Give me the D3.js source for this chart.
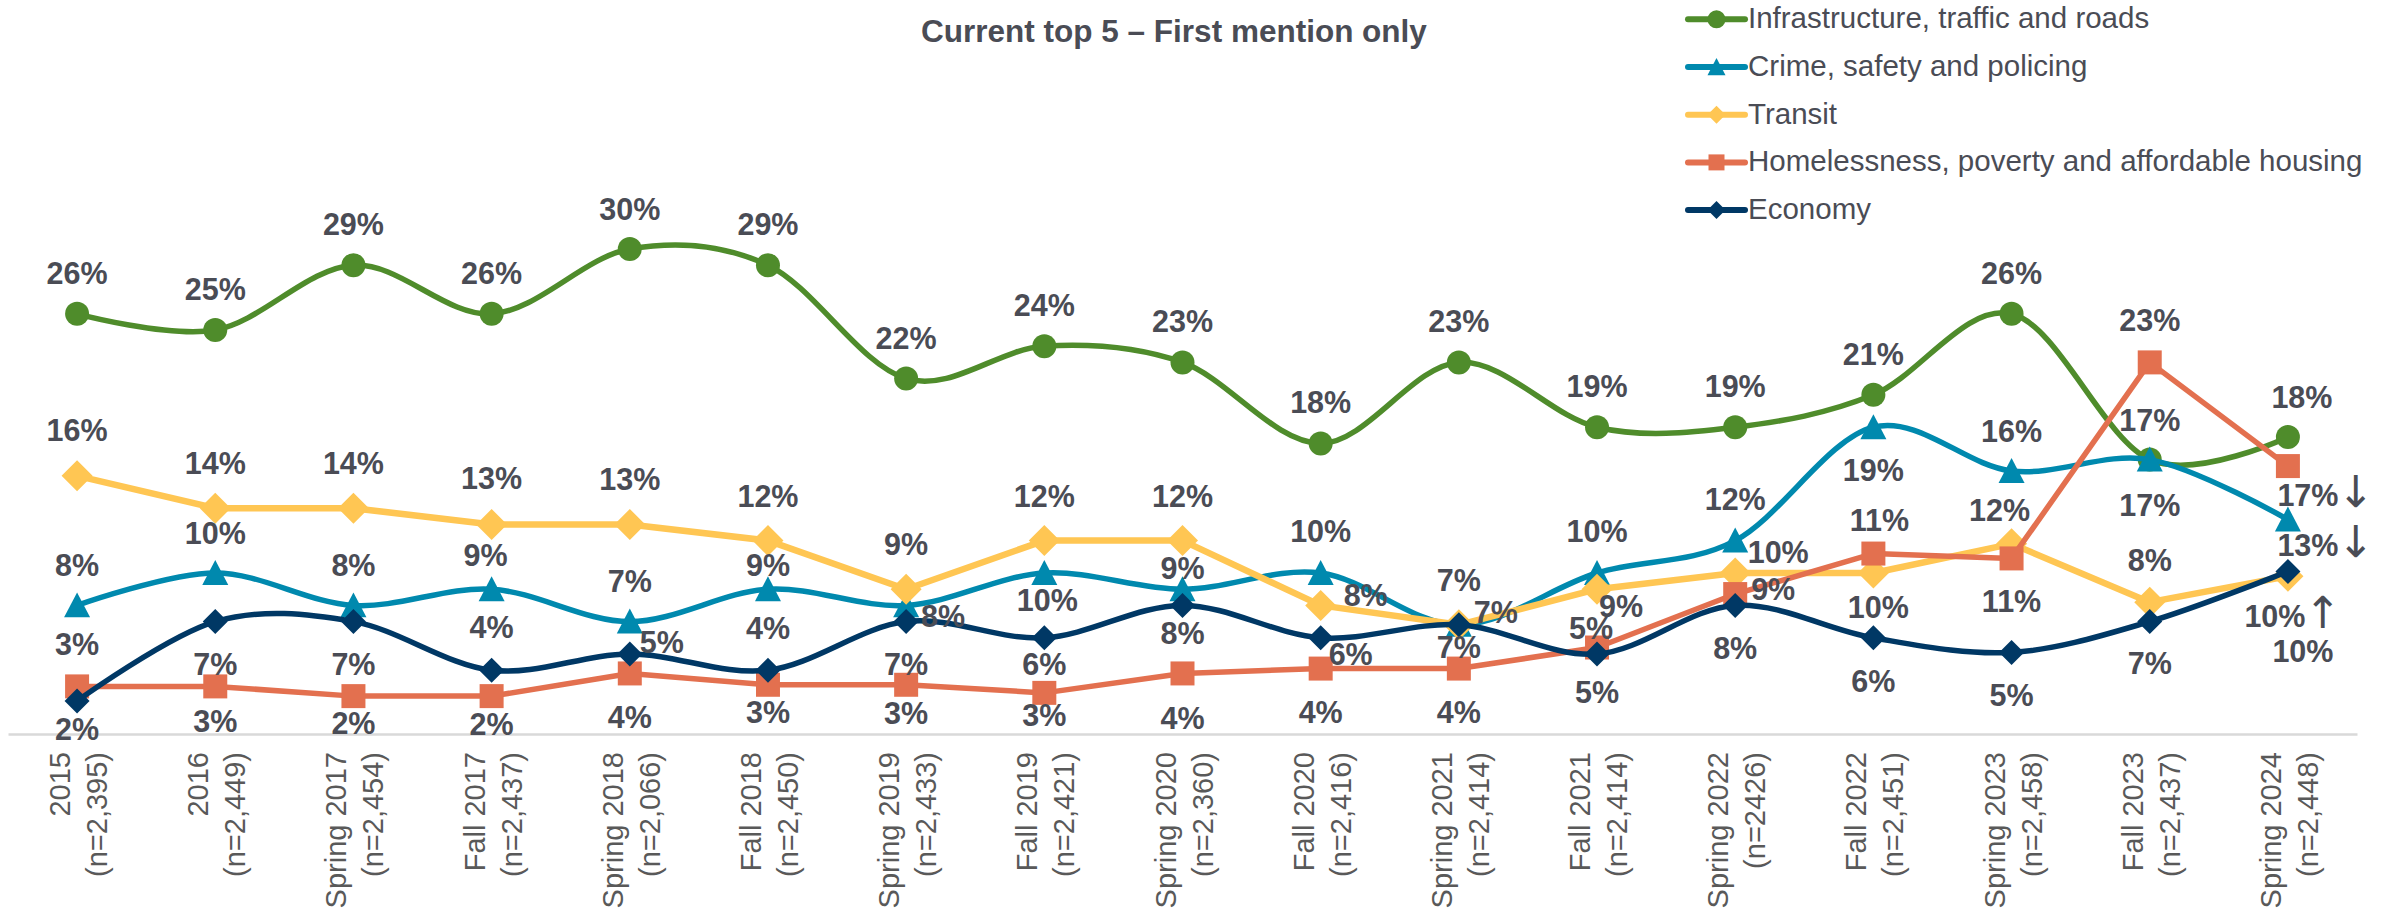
<!DOCTYPE html>
<html>
<head>
<meta charset="utf-8">
<script src="https://cdn.jsdelivr.net/npm/d3@7"></script>
<style>
body { margin: 0; background: #fff; }
text { font-family: "Liberation Sans", Arial, sans-serif; }
</style>
</head>
<body>
<svg id="chart" width="2394" height="910"></svg>
<script>
var categories = ['2015', '2016', 'Spring 2017', 'Fall 2017', 'Spring 2018', 'Fall 2018', 'Spring 2019', 'Fall 2019',
	'Spring 2020', 'Fall 2020', 'Spring 2021', 'Fall 2021', 'Spring 2022', 'Fall 2022', 'Spring 2023', 'Fall 2023', 'Spring 2024'];
var sampleSizes = ['(n=2,395)', '(n=2,449)', '(n=2,454)', '(n=2,437)', '(n=2,066)', '(n=2,450)', '(n=2,433)', '(n=2,421)',
	'(n=2,360)', '(n=2,416)', '(n=2,414)', '(n=2,414)', '(n=2426)', '(n=2,451)', '(n=2,458)', '(n=2,437)', '(n=2,448)'];

var seriesNames = ['Infrastructure, traffic and roads', 'Crime, safety and policing', 'Transit',
	'Homelessness, poverty and affordable housing', 'Economy'];

var infrastructure = [26, 25, 29, 26, 30, 29, 22, 24, 23, 18, 23, 19, 19, 21, 26, 17, 18.4];
var crime          = [8, 10, 8, 9, 7, 9, 8, 10, 9, 10, 6.8, 10, 12, 19, 16.3, 17, 13.3];
var transit        = [16, 14, 14, 13, 13, 12, 9, 12, 12, 8, 6.8, 9, 10, 10, 11.8, 8.2, 9.8];
var homelessness   = [3, 3, 2.4, 2.4, 3.8, 3.1, 3.1, 2.6, 3.8, 4.1, 4.1, 5.4, 8.7, 11.2, 10.9, 23, 16.6];
var economy        = [2.1, 7, 7, 4, 5, 4, 7, 6, 8, 6, 6.8, 5, 8, 6, 5.1, 7, 10.1];

// change vs previous wave, shown on the last point only
var trendArrows = ['', '\u2193', '\u2191', '\u2193', ''];

// label centre offsets [dx, dy] from each marker
var infraLabelPos = [[0,-41],[0,-41],[0,-41],[0,-41],[0,-40],[0,-41],[0,-41],[0,-41],[0,-41],[0,-41],[0,-41],[0,-41],[0,-41],[0,-41],[0,-41],[0,-40],[14,-40]];
var crimeLabelPos = [[0,-40],[0,-40],[0,-40],[-6,-34],[0,-41],[0,-24],[37,11],[3,27],[0,-21],[0,-42],[0,-45],[0,-42],[0,-42],[0,43],[0,-40],[0,45],[20,25]];
var transitLabelPos = [[0,-46],[0,-45],[0,-45],[0,-46],[0,-45],[0,-45],[0,-45],[0,-45],[0,-45],[45,-10],[37,-13],[24,17],[43,-21],[5,34],[-12,-34],[0,-42],[-13,40]];
var homeLabelPos = [[0,-42],[0,35],[0,27],[0,28],[0,44],[0,27],[0,28],[0,22],[0,45],[0,43],[0,43],[-6,-20],[38,-5],[6,-34],[0,43],[0,-42],[20,29]];
var economyLabelPos = [[0,28],[0,42],[0,42],[0,-43],[32,-12],[0,-42],[0,42],[0,26],[0,28],[30,16],[0,22],[0,38],[0,43],[0,43],[0,43],[0,41],[15,80]];

var series = [
	{name: seriesNames[0], values: infrastructure, color: '#4f8c2b', shape: 'circle', size: 12, smooth: true, width: 5.5, pos: infraLabelPos},
	{name: seriesNames[1], values: crime, color: '#0089ae', shape: 'triangle', size: 13, smooth: true, width: 5.5, pos: crimeLabelPos},
	{name: seriesNames[2], values: transit, color: '#ffc653', shape: 'diamond', size: 15.5, smooth: false, width: 6.5, pos: transitLabelPos},
	{name: seriesNames[3], values: homelessness, color: '#e3704f', shape: 'square', size: 12, smooth: false, width: 5.5, pos: homeLabelPos},
	{name: seriesNames[4], values: economy, color: '#003865', shape: 'diamond', size: 12.5, smooth: true, width: 5.5, pos: economyLabelPos}
];

function markerPath(shape, s) {
	if (shape === 'circle') return 'M' + (-s) + ',0A' + s + ',' + s + ' 0 1,0 ' + s + ',0A' + s + ',' + s + ' 0 1,0 ' + (-s) + ',0Z';
	if (shape === 'triangle') return 'M0,' + (-s) + 'L' + s + ',' + (s * 0.92) + 'L' + (-s) + ',' + (s * 0.92) + 'Z';
	if (shape === 'diamond') return 'M0,' + (-s) + 'L' + s + ',0L0,' + s + 'L' + (-s) + ',0Z';
	return 'M' + (-s) + ',' + (-s) + 'H' + s + 'V' + s + 'H' + (-s) + 'Z';
}

var labelColor = '#4a4c55';
var svg = d3.select('#chart');
svg.append('rect').attr('width', 2394).attr('height', 910).attr('fill', '#fff');

var x = d3.scalePoint().domain(categories).range([8, 2357]).padding(0.5);
var y = d3.scaleLinear().domain([0, 30]).range([735, 249]);

// x axis: line only, two-line rotated labels drawn below
var xAxis = svg.append('g').attr('transform', 'translate(0,734)')
	.call(d3.axisBottom(x).tickSize(0).tickSizeOuter(0).tickFormat(''));
xAxis.select('.domain').attr('stroke', '#d9d9d9').attr('stroke-width', 2.5);

var ticks = svg.append('g').selectAll('text').data(categories).enter().append('text')
	.attr('transform', function (d) { return 'translate(' + x(d) + ',752) rotate(-90)'; })
	.attr('text-anchor', 'end')
	.style('font-size', '29px')
	.attr('fill', '#595959');
ticks.append('tspan').attr('x', 0).attr('y', -7).text(function (d) { return d; });
ticks.append('tspan').attr('x', 0).attr('y', 30).text(function (d, i) { return sampleSizes[i]; });

// title
svg.append('text')
	.attr('x', 1174).attr('y', 42)
	.attr('text-anchor', 'middle')
	.style('font-size', '31.5px').style('font-weight', 'bold')
	.attr('fill', labelColor)
	.text('Current top 5 \u2013 First mention only');

// lines + markers, in legend order
series.forEach(function (s) {
	var line = d3.line()
		.x(function (d, i) { return x(categories[i]); })
		.y(function (d) { return y(d); })
		.curve(s.smooth ? d3.curveCardinal.tension(0) : d3.curveLinear);
	var g = svg.append('g').attr('class', 'series');
	g.append('path').datum(s.values)
		.attr('d', line)
		.attr('fill', 'none')
		.attr('stroke', s.color)
		.attr('stroke-width', s.width)
		.attr('stroke-linejoin', 'round')
		.attr('stroke-linecap', 'round');
	g.selectAll('path.marker').data(s.values).enter().append('path')
		.attr('class', 'marker')
		.attr('transform', function (d, i) { return 'translate(' + x(categories[i]) + ',' + y(d) + ')'; })
		.attr('d', markerPath(s.shape, s.size))
		.attr('fill', s.color);
});

// data labels
var labels = svg.append('g');
series.forEach(function (s, si) {
	s.values.forEach(function (v, i) {
		var off = s.pos[i];
		var cx = x(categories[i]) + off[0], cy = y(v) + off[1];
		var t = labels.append('text')
			.attr('x', cx).attr('y', cy + 11)
			.attr('text-anchor', 'middle')
			.style('font-size', '30.5px').style('font-weight', 'bold')
			.attr('fill', labelColor)
			.text(Math.round(v) + '%');
		if (i === categories.length - 1 && trendArrows[si]) {
			var bb = t.node().getBBox();
			labels.append('text')
				.attr('x', bb.x + bb.width - 1).attr('y', cy + 12)
				.style('font-family', '"DejaVu Sans", sans-serif')
				.style('font-size', '44px')
				.attr('fill', labelColor)
				.text(trendArrows[si]);
		}
	});
});

// legend
var legend = svg.append('g').selectAll('g').data(series).enter().append('g')
	.attr('transform', function (d, i) { return 'translate(1688,' + (19.3 + i * 47.7) + ')'; });
legend.append('line')
	.attr('x1', 0).attr('x2', 57)
	.attr('stroke', function (d) { return d.color; })
	.attr('stroke-width', 6)
	.attr('stroke-linecap', 'round');
legend.append('path')
	.attr('transform', 'translate(28.5,0)')
	.attr('d', function (d) { return markerPath(d.shape, d.shape === 'square' ? 8 : 9); })
	.attr('fill', function (d) { return d.color; });
legend.append('text')
	.attr('x', 60).attr('y', 9)
	.style('font-size', '29.5px')
	.attr('fill', labelColor)
	.text(function (d) { return d.name; });
</script>
</body>
</html>
